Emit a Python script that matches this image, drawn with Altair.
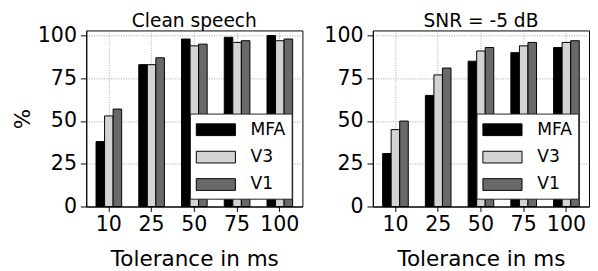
import altair as alt
import pandas as pd

tolerances = ["10", "25", "50", "75", "100"]
systems = ["MFA", "V3", "V1"]
colors = ["#000000", "#d3d3d3", "#696969"]

clean_mfa = [38, 83, 98, 99, 100]
clean_v3 = [53, 83, 94, 96, 97]
clean_v1 = [57, 87, 95, 97, 98]

snr_mfa = [31, 65, 85, 90, 93]
snr_v3 = [45, 77, 91, 94, 96]
snr_v1 = [50, 81, 93, 96, 97]

FONT = "DejaVu Sans"


def make_df(mfa, v3, v1):
    rows = []
    for sys_name, vals in zip(systems, [mfa, v3, v1]):
        for t, v in zip(tolerances, vals):
            rows.append({"tol": t, "sys": sys_name, "val": v})
    return pd.DataFrame(rows)


def panel(df, title, y_title):
    common = dict(values=[0, 25, 50, 75, 100], grid=True, tickSize=6, labelPadding=4,
                  labelFontSize=21, titleFontSize=22,
                  labelFont=FONT, titleFont=FONT, titleFontWeight="normal")
    if y_title:
        y = alt.Y("val:Q", scale=alt.Scale(domain=[0, 103], nice=False, zero=True),
                  axis=alt.Axis(titleX=-53, titleY=90, **common), title="%")
    else:
        y = alt.Y("val:Q", scale=alt.Scale(domain=[0, 103], nice=False, zero=True),
                  axis=alt.Axis(**common), title=None)
    return alt.Chart(
        df,
        title=alt.TitleParams(title, fontSize=19, font=FONT, fontWeight="normal", anchor="middle",
                              offset=-6, color="black"),
    ).mark_bar(stroke="black", strokeWidth=1).encode(
        x=alt.X("tol:N", sort=tolerances, title="Tolerance in ms",
                scale=alt.Scale(paddingInner=0.4, paddingOuter=0.2285),
                axis=alt.Axis(labelAngle=0, grid=True, bandPosition=0.5, tickSize=5, labelPadding=3,
                              labelFontSize=21, titleFontSize=22, titlePadding=14,
                              labelFont=FONT, titleFont=FONT, titleFontWeight="normal")),
        xOffset=alt.XOffset("sys:N", sort=systems, scale=alt.Scale(paddingInner=0, paddingOuter=0)),
        y=y,
        color=alt.Color("sys:N", sort=systems, scale=alt.Scale(domain=systems, range=colors),
                        legend=alt.Legend(title=None, orient="none", legendX=106, legendY=85,
                                          symbolType="M-1,-0.6H3V0.6H-1Z", symbolSize=400,
                                          symbolStrokeColor="black", symbolStrokeWidth=1,
                                          symbolOpacity=1,
                                          labelFontSize=17.5, labelFont=FONT, labelOffset=35,
                                          labelColor="black",
                                          rowPadding=9, padding=6,
                                          fillColor="white", strokeColor="#222222")),
    ).properties(width=221, height=180)


left = panel(make_df(clean_mfa, clean_v3, clean_v1), "Clean speech", True)
right = panel(make_df(snr_mfa, snr_v3, snr_v1), "SNR = -5 dB", False)

chart = alt.hconcat(left, right, spacing=20).resolve_scale(color="independent").resolve_legend(
    color="independent"
).properties(padding={"left": 3, "top": 0, "right": 0, "bottom": 0}).configure_view(
    stroke="black", strokeWidth=1
).configure_axis(
    domainColor="black", tickColor="black", labelColor="black", titleColor="black",
    gridColor="#8a8a8a", gridDash=[1, 1.5], gridWidth=0.8
)

chart.save("out.html", embed_options={"renderer": "svg", "actions": False})
